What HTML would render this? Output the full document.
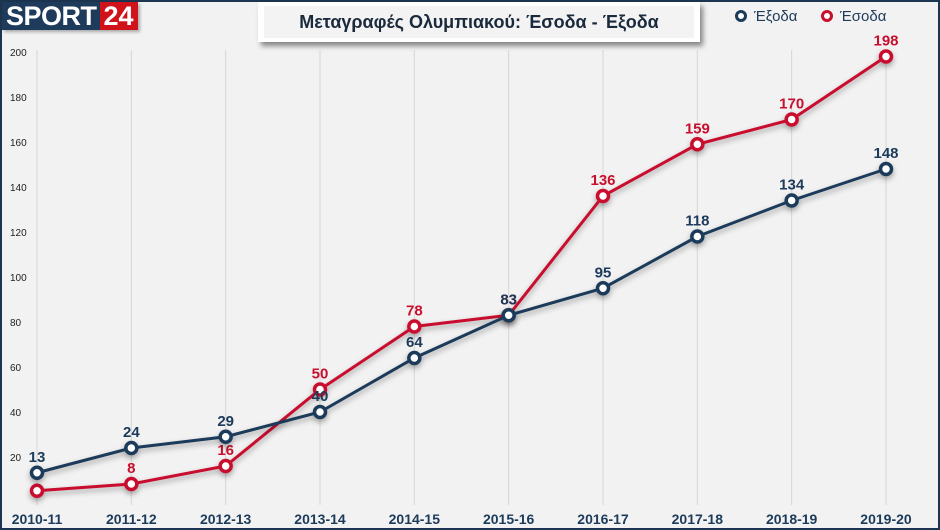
<!DOCTYPE html>
<html><head><meta charset="utf-8"><style>
html,body{margin:0;padding:0}
body{width:940px;height:530px;overflow:hidden;background:#f2f2f2;font-family:"Liberation Sans",sans-serif;position:relative}
#frame{position:absolute;left:0;top:0;width:936px;height:526px;border:2px solid #1c3550}
#logo{position:absolute;left:2px;top:2px;height:28px;display:flex;font-weight:bold;font-size:27px;line-height:28px;box-shadow:2px 2px 3px rgba(0,0,0,.3)}
#logo .a{background:#1f3b5c;color:#fff;padding:0 3px 0 4px;letter-spacing:-0.5px}
#logo .b{background:#d0121b;color:#fff;padding:0 4px}
#title{position:absolute;left:258px;top:2px;width:442px;height:40px;background:#fff;box-shadow:3px 4px 5px rgba(0,0,0,.45);display:flex;align-items:center;justify-content:center}
#title span{display:block;width:430px;height:32px;background:#f3f3f3;text-align:center;line-height:32px;font-weight:bold;font-size:18px;color:#1a2a3c}
</style></head><body>
<div id="frame"></div>
<div id="logo"><span class="a">SPORT</span><span class="b">24</span></div>
<div id="title"><span>Μεταγραφές Ολυμπιακού: Έσοδα - Έξοδα</span></div>
<svg id="chart" width="940" height="530" style="position:absolute;left:0;top:0">
<defs><filter id="sh" x="-20%" y="-20%" width="140%" height="140%"><feDropShadow dx="0" dy="3" stdDeviation="3" flood-color="#000" flood-opacity="0.35"/></filter></defs>
<g id="grid"></g><g id="series"></g>
<g>
<circle cx="741" cy="16" r="4.5" fill="#fff" stroke="#1c3b5a" stroke-width="3"/>
<text x="754" y="21" font-size="15" fill="#1c3b5a">Έξοδα</text>
<circle cx="827" cy="16" r="4.5" fill="#fff" stroke="#c8102e" stroke-width="3"/>
<text x="840" y="21" font-size="15" fill="#1c3b5a">Έσοδα</text>
</g>
</svg>
<script>
const categories=["2010-11","2011-12","2012-13","2013-14","2014-15","2015-16","2016-17","2017-18","2018-19","2019-20"];
const exoda=[13,24,29,40,64,83,95,118,134,148];
const esoda=[5,8,16,50,78,83,136,159,170,198];
const yTicks=[20,40,60,80,100,120,140,160,180,200];
const NS="http://www.w3.org/2000/svg";
const x=i=>37+i*(886-37)/(categories.length-1);
const y=v=>502-v*2.25;
function mk(tag,attrs,parent){const e=document.createElementNS(NS,tag);for(const k in attrs)e.setAttribute(k,attrs[k]);parent.appendChild(e);return e;}
const grid=document.getElementById('grid'),ser=document.getElementById('series');
yTicks.forEach(t=>{const e=mk('text',{x:10,y:y(t)+4,'font-size':10,fill:'#222'},grid);e.textContent=t;

});
categories.forEach((c,i)=>{const l=mk('line',{x1:x(i),x2:x(i),y1:50,y2:505,stroke:'#d6d6d6','stroke-width':1},grid);


const t=mk('text',{x:x(i),y:524,'text-anchor':'middle','font-size':14,'font-weight':'bold',fill:'#1c3b5a'},grid);t.textContent=c;

});
function series(vals,color,name){
const g=mk('g',{filter:'url(#sh)'},ser);


const p=mk('polyline',{points:vals.map((v,i)=>x(i)+','+y(v)).join(' '),fill:'none',stroke:color,'stroke-width':3},g);


vals.forEach((v,i)=>{const c=mk('circle',{cx:x(i),cy:y(v),r:5.5,fill:'#fff',stroke:color,'stroke-width':3.5},g);

});
const lg=mk('g',{},ser);
vals.forEach((v,i)=>{const t=mk('text',{x:x(i),y:y(v)-11,'text-anchor':'middle','font-size':15,'font-weight':'bold',fill:color},lg);t.textContent=v;

});
}
series(esoda,'#c8102e','esoda');
series(exoda,'#1c3b5a','exoda');
</script>
</body></html>
